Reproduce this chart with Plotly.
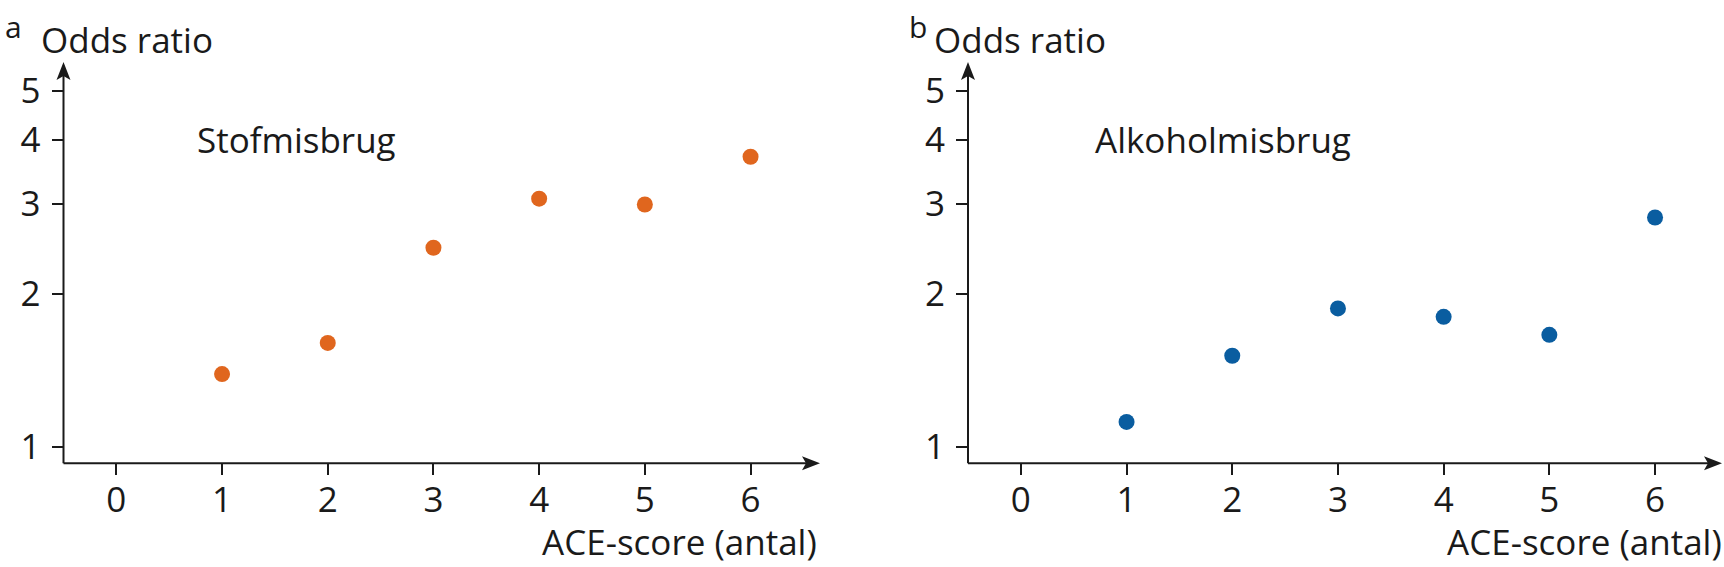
import plotly.graph_objects as go
from plotly.subplots import make_subplots

# ACE-score categories and odds ratios
ace_score = [1, 2, 3, 4, 5, 6]
odds_stof = [1.39, 1.60, 2.46, 3.07, 2.99, 3.71]
odds_alkohol = [1.12, 1.51, 1.87, 1.80, 1.66, 2.82]

x_ticks = [0, 1, 2, 3, 4, 5, 6]
y_ticks = [1, 2, 3, 4, 5]

panel_labels = ['a', 'b']
panel_titles = ['Stofmisbrug', 'Alkoholmisbrug']

ORANGE = '#E0661E'
BLUE = '#0A5DA0'
INK = '#1a1a1a'
FONT = 'Open Sans'
FS = 35

W, H = 1724, 567

# layout in pixels
axis_x = [63.5, 968]          # y-axis position of each panel
unit_px = 105.7               # px per ACE step
axis_y = 463.3                # x-axis position
y5_px, y1_px = 90.7, 447      # pixel rows of odds ratio 5 and 1
tip_x = [820, 1722]           # x-axis arrow tips
tip_y = 62                    # y-axis arrow tip
title_dx = [-24.5, -36]       # "Odds ratio" offset from axis
label_dx = [131.5, 125]       # panel title offset from axis

px_per_log = (y1_px - y5_px) / 0.69897
ymin_log = -(axis_y - y1_px) / px_per_log


def px(x):
    return x / W


def py(y):
    return 1 - y / H


fig = make_subplots(rows=1, cols=2)

fig.add_trace(go.Scatter(x=ace_score, y=odds_stof, mode='markers',
                         marker=dict(color=ORANGE, size=16),
                         showlegend=False), row=1, col=1)
fig.add_trace(go.Scatter(x=ace_score, y=odds_alkohol, mode='markers',
                         marker=dict(color=BLUE, size=16),
                         showlegend=False), row=1, col=2)

shapes = []
for i in range(2):
    n = '' if i == 0 else '2'
    ax = axis_x[i]
    fig.layout['xaxis' + n].update(
        domain=[px(ax), px(ax + 7 * unit_px)], range=[-0.5, 6.5],
        tickvals=x_ticks, ticks='outside', ticklen=11, tickwidth=2,
        tickcolor=INK, showgrid=False, zeroline=False, showline=False,
        tickfont=dict(family=FONT, size=FS, color=INK),
        ticklabelstandoff=-5, automargin=False)
    fig.layout['yaxis' + n].update(
        domain=[py(axis_y), py(y5_px)],
        type='log', range=[ymin_log, 0.69897],
        tickvals=y_ticks, ticks='outside', ticklen=11, tickwidth=2,
        tickcolor=INK, showgrid=False, zeroline=False, showline=False,
        tickfont=dict(family=FONT, size=FS, color=INK),
        ticklabelstandoff=4, automargin=False)

    # axis lines with arrowheads
    tx = tip_x[i]
    shapes.append(dict(type='line', xref='paper', yref='paper',
                       x0=px(ax), y0=py(axis_y), x1=px(tx - 12), y1=py(axis_y),
                       line=dict(color=INK, width=2)))
    shapes.append(dict(type='line', xref='paper', yref='paper',
                       x0=px(ax), y0=py(axis_y), x1=px(ax), y1=py(tip_y + 12),
                       line=dict(color=INK, width=2)))
    shapes.append(dict(type='path', xref='paper', yref='paper',
                       path='M%f,%f L%f,%f L%f,%f L%f,%f Z' % (
                           px(tx), py(axis_y),
                           px(tx - 18), py(axis_y - 7),
                           px(tx - 14), py(axis_y),
                           px(tx - 18), py(axis_y + 7)),
                       fillcolor=INK, line=dict(width=0)))
    shapes.append(dict(type='path', xref='paper', yref='paper',
                       path='M%f,%f L%f,%f L%f,%f L%f,%f Z' % (
                           px(ax), py(tip_y),
                           px(ax - 7), py(tip_y + 18),
                           px(ax), py(tip_y + 14),
                           px(ax + 7), py(tip_y + 18)),
                       fillcolor=INK, line=dict(width=0)))

    # axis titles
    fig.add_annotation(xref='paper', yref='paper',
                       x=px(ax + title_dx[i]), y=py(39),
                       xanchor='left', yanchor='middle', showarrow=False,
                       text='Odds ratio',
                       font=dict(family=FONT, size=FS, color=INK))
    fig.add_annotation(xref='paper', yref='paper',
                       x=px(ax + 755.5), y=py(541),
                       xanchor='right', yanchor='middle', showarrow=False,
                       text='ACE-score (antal)',
                       font=dict(family=FONT, size=FS, color=INK))
    # panel letter
    fig.add_annotation(xref='paper', yref='paper',
                       x=px(ax - 61), y=py(26),
                       xanchor='left', yanchor='middle', showarrow=False,
                       text=panel_labels[i],
                       font=dict(family=FONT, size=30, color=INK))
    # panel title
    fig.add_annotation(xref='paper', yref='paper',
                       x=px(ax + label_dx[i]), y=py(139.5),
                       xanchor='left', yanchor='middle', showarrow=False,
                       text=panel_titles[i],
                       font=dict(family=FONT, size=FS, color=INK))

fig.update_layout(width=W, height=H,
                  margin=dict(l=0, r=0, t=0, b=0),
                  plot_bgcolor='white', paper_bgcolor='white',
                  font=dict(family=FONT, color=INK),
                  shapes=shapes)

# drop the default body margin so the figure fills the window exactly
fig.write_html('out.html',
               config={'displayModeBar': False},
               post_script="document.body.style.margin='0';"
                           "document.body.style.overflow='hidden';")
